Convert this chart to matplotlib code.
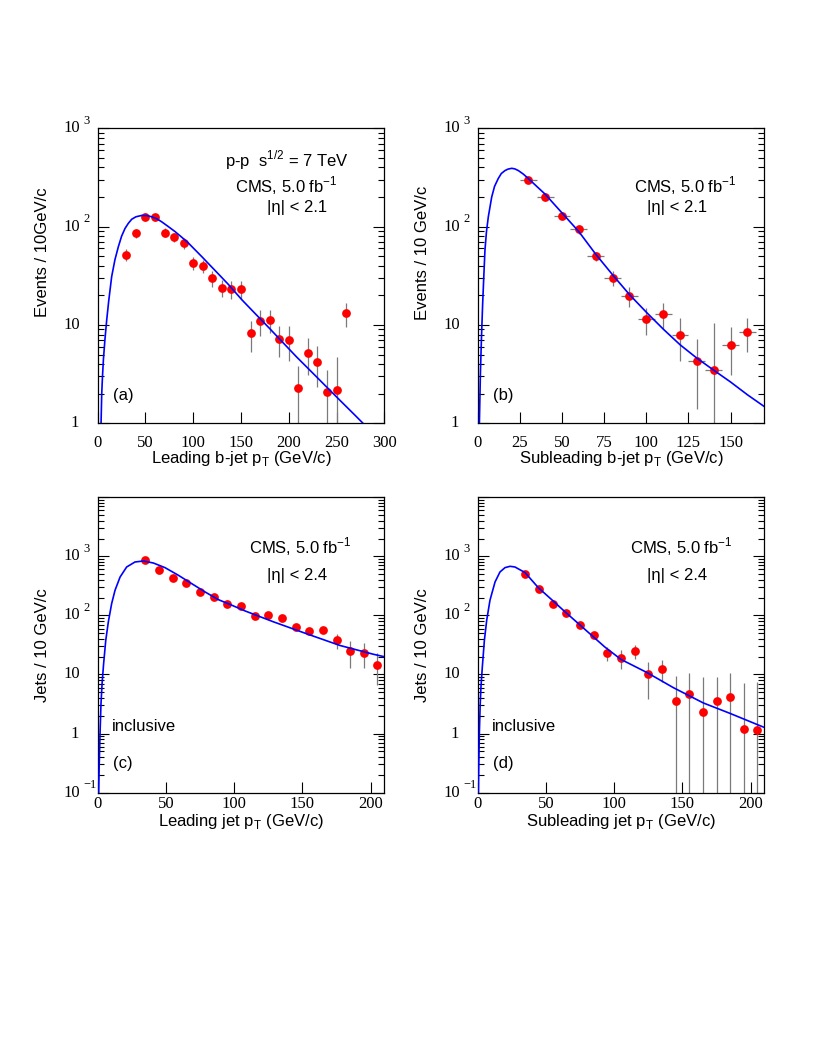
import numpy as np
import matplotlib.pyplot as plt
from matplotlib import transforms
from matplotlib.ticker import FixedLocator, NullLocator

plt.rcParams['font.family'] = 'Liberation Sans'

## data
# (a) leading b-jet
a_x = [30, 40, 50, 60, 70, 80, 90, 100, 110, 120, 130, 140, 150, 160, 170, 180,
       190, 200, 210, 220, 230, 240, 250, 260]
a_y = [52, 86, 126, 124, 87, 78, 68, 43, 40, 30, 24, 23, 23, 8.2, 11, 11.3,
       7.2, 7.0, 2.3, 5.2, 4.25, 2.08, 2.18, 13.1]
a_err = [7.2, 9.3, 11.2, 11.1, 9.3, 8.8, 8.2, 6.6, 6.3, 5.5, 4.9, 4.8, 4.8, 2.9, 3.3, 3.0,
         2.5, 2.7, 1.5, 2.1, 1.9, 1.4, 2.5, 3.6]
a_fit_x = [3.5, 4.2, 5.0, 6.0, 7.5, 9.4, 11.5, 14.6, 18.0, 21.6, 25.0, 28.6, 32.0, 35.6,
           40.0, 46.0, 51.0, 56.5, 62.0, 67.0, 74.0, 81.0, 88.0, 95.0, 102.0, 109.0,
           116.0, 123.0, 130.0, 137.0, 151.0, 165.0, 180.0, 195.0, 208.0, 225.0,
           240.0, 255.0, 270.0, 280.0]
a_fit_y = [1.0, 2.0, 3.0, 4.5, 7.0, 11.2, 17.5, 31, 46, 62.5, 80, 96, 108, 119,
           126, 130, 130, 126, 120, 112, 100, 89, 78, 68, 58, 49.5,
           42, 35.7, 30.3, 25.7, 18, 13, 9.2, 6.45, 4.75, 3.25,
           2.32, 1.66, 1.19, 0.95]

# (b) subleading b-jet
b_x = [30, 40, 50, 60, 70, 80, 90, 100, 110, 120, 130, 140, 150, 160]
b_y = [299, 198, 129, 94, 50, 30, 19.8, 11.4, 13.0, 8.0, 4.3, 3.47, 6.3, 8.5]
b_err = [17, 14, 11, 9.5, 5.5, 5, 4.5, 3.4, 3.8, 3.7, 2.9, 7.0, 3.2, 3.2]
b_xerr = 5
b_fit_x = [1.0, 1.6, 2.2, 2.9, 3.5, 4.3, 5.2, 6.3, 8.3, 10, 12.2, 14, 16.2, 18, 20.2,
           22, 24.1, 27, 30, 35, 40, 50, 60, 70, 80, 90, 100, 110, 120, 130, 140,
           150, 160, 170]
b_fit_y = [1.0, 3.2, 7.1, 15.8, 28, 57.5, 89, 126, 200, 257, 309, 347, 372, 385, 392,
           387, 372, 343, 309, 257, 214, 138, 89, 52.5, 32.4, 20.4, 13.5, 9.1, 6.3, 4.6, 3.47,
           2.63, 1.95, 1.48]

# (c) leading jet, inclusive
c_x = [35, 45, 55, 65, 75, 85, 95, 105, 115, 125, 135, 145, 155, 165, 175, 185, 195, 205]
c_y = [861, 591, 433, 352, 254, 202, 155, 142, 96, 100, 90, 63, 54, 57, 38, 25, 23.4, 14.7]
c_err = [30, 25, 21, 19, 16, 14, 12, 12, 10, 10, 9.5, 8, 7.5, 7.5, 11, 12, 10.5, 8]
c_fit_x = [0.7, 1.1, 1.7, 2.4, 3.2, 4.3, 5.9, 7.8, 10.2, 12.7, 16.4, 21.2, 27.3, 33.4,
           40.8, 49.3, 59.1, 68.9, 78.6, 88.4, 98.2, 108, 128.7, 153, 177.5, 202, 210]
c_fit_y = [0.1, 0.3, 1.0, 3.2, 7.0, 15, 38, 78, 158, 267, 447, 660, 802, 834,
           771, 644, 478, 345, 250, 185, 149, 119, 78, 49, 31, 22, 20]

# (d) subleading jet, inclusive
d_x = [35, 45, 55, 65, 75, 85, 95, 105, 115, 125, 135, 145, 155, 165, 175, 185, 195, 205]
d_y = [506, 282, 157, 108, 70, 47, 23, 19, 24.6, 10.1, 12.4, 3.5, 4.7, 2.35, 3.5, 4.2, 1.18, 1.17]
d_err = [20, 15, 11, 9, 7, 6, 6, 6.6, 6.5, 6.3, 5, 6.0, 5.8, 6.6, 5.5, 6.3, 6.1, 6.4]
d_fit_x = [0.5, 0.8, 1.2, 1.8, 2.4, 3.4, 4.9, 6.6, 9.0, 12.7, 16.3, 20.0, 23.7, 27.3,
           34.7, 44.4, 54.2, 64, 73.7, 83.5, 93.3, 105, 124, 143.3, 165.3, 184.8, 210]
d_fit_y = [0.1, 0.3, 1.0, 3.0, 6.2, 13.5, 38, 83, 181, 368, 543, 644, 678, 660,
           531, 295, 185, 115, 73, 46, 29, 18, 10.8, 6.0, 3.3, 2.2, 1.27]

# decades that carry a label on the y axis
ab_ylabels = [1, 10, 100, 1000]
cd_ylabels = [0.1, 1, 10, 100, 1000]

SERIF = 'Liberation Serif'


def draw_panel(ax, x, y, yerr, fit_x, fit_y, xlim, xticks, ylim, decades, ylabels,
               xlabel, ylabel, ylab_y, xlab_y, xpad, xerr=None):
    ax.set_yscale('log')
    # error bars first, then markers, fit curve on top
    ax.errorbar(x, y, yerr=yerr, xerr=xerr, fmt='none', ecolor='#7a7a7a',
                elinewidth=0.9, capsize=0, zorder=2)
    ax.plot(x, y, 'o', color='#ff0000', markersize=6.3, markeredgewidth=0, zorder=3)
    ax.plot(fit_x, fit_y, '-', color='#0000ff', linewidth=1.2, zorder=4)
    ax.set_xlim(xlim)
    ax.set_ylim(ylim)

    ax.xaxis.set_major_locator(FixedLocator(xticks))
    ax.xaxis.set_minor_locator(NullLocator())
    ax.tick_params(axis='x', direction='in', top=False, bottom=True, length=8,
                   width=0.8, labelsize=12, pad=xpad, labelfontfamily=SERIF)

    minors = [m * 10.0 ** e for e in range(-2, 5) for m in range(2, 10)]
    ax.yaxis.set_major_locator(FixedLocator(decades))
    ax.yaxis.set_minor_locator(FixedLocator(minors))
    ax.tick_params(axis='y', which='both', direction='in', left=True, right=True,
                   labelleft=False, width=0.8)
    ax.tick_params(axis='y', which='major', length=8)
    ax.tick_params(axis='y', which='minor', length=4)
    for s in ax.spines.values():
        s.set_linewidth(0.9)

    # ROOT-like decade labels: "10" with raised exponent
    trans = ax.get_yaxis_transform()
    sup_trans = transforms.offset_copy(trans, fig=ax.figure, y=5.5, units='points')
    for v in ylabels:
        e = int(round(np.log10(v)))
        if e == 0:
            ax.text(-0.066, v, '1', transform=trans, ha='right', va='center',
                    fontsize=12, family=SERIF)
        elif e == 1:
            ax.text(-0.062, v, '10', transform=trans, ha='right', va='center',
                    fontsize=12, family=SERIF)
        else:
            ax.text(-0.062, v, '10', transform=trans, ha='right', va='center',
                    fontsize=12, family=SERIF)
            ax.text(-0.050, v, str(e).replace('-', '\u2212'), transform=sup_trans,
                    ha='left', va='center', fontsize=9, family=SERIF)

    ax.text(-0.192, ylab_y, ylabel, transform=ax.transAxes, rotation=90,
            ha='center', va='center', fontsize=12)
    ax.text(0.5, xlab_y, xlabel, transform=ax.transAxes, ha='center',
            va='baseline', fontsize=12)


fig = plt.figure(figsize=(8.17, 10.58), dpi=100)
ax_a = fig.add_axes([0.1196, 0.5999, 0.3508, 0.2788])
ax_b = fig.add_axes([0.5847, 0.5999, 0.3508, 0.2788])
ax_c = fig.add_axes([0.1196, 0.2508, 0.3508, 0.2792])
ax_d = fig.add_axes([0.5847, 0.2508, 0.3508, 0.2792])

draw_panel(ax_a, a_x, a_y, a_err, a_fit_x, a_fit_y, (0, 300), [0, 50, 100, 150, 200, 250, 300],
           (1, 1000), [1, 10, 100, 1000], ab_ylabels,
           r'Leading b-jet p$_{\mathregular{T}}$ (GeV/c)', 'Events / 10GeV/c', 0.579, -0.135, 8.5)
draw_panel(ax_b, b_x, b_y, b_err, b_fit_x, b_fit_y, (0, 170), [0, 25, 50, 75, 100, 125, 150],
           (1, 1000), [1, 10, 100, 1000], ab_ylabels,
           r'Subleading b-jet p$_{\mathregular{T}}$ (GeV/c)', 'Events / 10 GeV/c', 0.579, -0.135, 8.5,
           xerr=b_xerr)
draw_panel(ax_c, c_x, c_y, c_err, c_fit_x, c_fit_y, (0, 210), [0, 50, 100, 150, 200],
           (0.1, 1e4), [0.1, 1, 10, 100, 1000, 1e4], cd_ylabels,
           r'Leading jet p$_{\mathregular{T}}$ (GeV/c)', 'Jets / 10 GeV/c', 0.5, -0.112, 2.5)
draw_panel(ax_d, d_x, d_y, d_err, d_fit_x, d_fit_y, (0, 210), [0, 50, 100, 150, 200],
           (0.1, 1e4), [0.1, 1, 10, 100, 1000, 1e4], cd_ylabels,
           r'Subleading jet p$_{\mathregular{T}}$ (GeV/c)', 'Jets / 10 GeV/c', 0.5, -0.112, 2.5)

# annotations
ax_a.text(0.444, 0.870, r'p-p  s$^{\mathregular{1/2}}$ = 7 TeV', transform=ax_a.transAxes, fontsize=12)
ax_a.text(0.479, 0.782, r'CMS, 5.0 fb$^{\mathregular{-1}}$', transform=ax_a.transAxes, fontsize=12)
ax_a.text(0.589, 0.717, '|\u03b7| < 2.1', transform=ax_a.transAxes, fontsize=12)
ax_a.text(0.054, 0.079, '(a)', transform=ax_a.transAxes, fontsize=12)

ax_b.text(0.545, 0.782, r'CMS, 5.0 fb$^{\mathregular{-1}}$', transform=ax_b.transAxes, fontsize=12)
ax_b.text(0.592, 0.717, '|\u03b7| < 2.1', transform=ax_b.transAxes, fontsize=12)
ax_b.text(0.054, 0.079, '(b)', transform=ax_b.transAxes, fontsize=12)

ax_c.text(0.528, 0.810, r'CMS, 5.0 fb$^{\mathregular{-1}}$', transform=ax_c.transAxes, fontsize=12)
ax_c.text(0.592, 0.720, '|\u03b7| < 2.4', transform=ax_c.transAxes, fontsize=12)
ax_c.text(0.049, 0.210, 'inclusive', transform=ax_c.transAxes, fontsize=12)
ax_c.text(0.054, 0.083, '(c)', transform=ax_c.transAxes, fontsize=12)

ax_d.text(0.531, 0.810, r'CMS, 5.0 fb$^{\mathregular{-1}}$', transform=ax_d.transAxes, fontsize=12)
ax_d.text(0.592, 0.720, '|\u03b7| < 2.4', transform=ax_d.transAxes, fontsize=12)
ax_d.text(0.049, 0.210, 'inclusive', transform=ax_d.transAxes, fontsize=12)
ax_d.text(0.054, 0.083, '(d)', transform=ax_d.transAxes, fontsize=12)

fig.savefig('out.png', dpi=100)
